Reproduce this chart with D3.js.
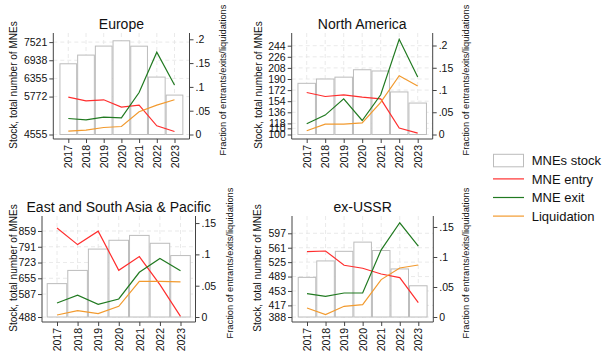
<!DOCTYPE html>
<html>
<head>
<meta charset="utf-8">
<script src="https://cdn.jsdelivr.net/npm/d3@7"></script>
<style>
  html, body { margin: 0; padding: 0; background: #fff; }
  svg { display: block; font-family: "Liberation Sans", Arial, Helvetica, sans-serif; }
</style>
</head>
<body>
<svg id="chart" width="604" height="352"></svg>
<script>
// Years shown on every panel
const years = [2017, 2018, 2019, 2020, 2021, 2022, 2023];

// Europe
const europeStock = [6825, 7104, 7393, 7563, 7390, 6398, 5820];
const europeEntry = [0.0786, 0.0708, 0.0729, 0.0576, 0.0618, 0.0183, 0.0063];
const europeExit = [0.0336, 0.0309, 0.0366, 0.0351, 0.0882, 0.173, 0.1038];
const europeLiquidation = [0.0071, 0.0092, 0.0147, 0.0168, 0.0477, 0.0618, 0.0729];
const europeStockTicks = [4555, 5772, 6355, 6938, 7521];

// North America
const naStock = [183, 190, 193, 205, 203, 169, 151];
const naEntry = [0.0944, 0.0854, 0.0892, 0.084, 0.080, 0.0144, 0.003];
const naExit = [0.024, 0.0436, 0.080, 0.0315, 0.0892, 0.214, 0.129];
const naLiquidation = [0.0083, 0.0234, 0.0234, 0.0263, 0.072, 0.132, 0.109];
const naStockTicks = [100, 110, 118, 136, 154, 172, 190, 208, 226, 244];

// East and South Asia & Pacific
const asiaStock = [632, 689, 781, 819, 840, 806, 753];
const asiaEntry = [0.142, 0.1156, 0.137, 0.0746, 0.0965, 0.0518, 0.001];
const asiaExit = [0.0224, 0.0347, 0.0203, 0.0288, 0.0714, 0.0933, 0.074];
const asiaLiquidation = [0.0032, 0.0102, 0.0054, 0.0171, 0.057, 0.057, 0.056];
const asiaStockTicks = [488, 587, 655, 723, 791, 859];

// ex-USSR
const ussrStock = [487, 528, 552, 575, 554, 508, 466];
const ussrEntry = [0.109, 0.110, 0.0862, 0.0812, 0.0717, 0.0656, 0.024];
const ussrExit = [0.039, 0.0345, 0.040, 0.040, 0.112, 0.157, 0.118];
const ussrLiquidation = [0.015, 0.004, 0.0178, 0.0206, 0.0623, 0.0817, 0.0867];
const ussrStockTicks = [388, 417, 453, 489, 525, 561, 597];

const fracTicksTop = [0, 0.05, 0.1, 0.15, 0.2];
const fracTicksBottom = [0, 0.05, 0.1, 0.15];

const legendLabels = ["MNEs stock", "MNE entry", "MNE exit", "Liquidation"];

const colors = { entry: "#ff2e2e", exit: "#217a21", liq: "#f29a2e", bar: "#bcbcbc", axis: "#444", grid: "#e4e4e4" };

const panels = [
  { title: "Europe", stock: europeStock, entry: europeEntry, exit: europeExit, liq: europeLiquidation,
    stockTicks: europeStockTicks, stockMax: 7813, fracTicks: fracTicksTop, fracMax: 0.2132,
    L: 53.3, R: 189.5, top: 33, bottom: 139, base: 134.5, titleY: 28.5,
    leftTitleX: 16.5, leftTitleY: 85, rightTitleX: 225.5, rightTitleY: 80 },
  { title: "North America", stock: naStock, entry: naEntry, exit: naExit, liq: naLiquidation,
    stockTicks: naStockTicks, stockMax: 264.6, fracTicks: fracTicksTop, fracMax: 0.2281,
    L: 291.7, R: 432.7, top: 33, bottom: 139, base: 134.5, titleY: 28.5,
    leftTitleX: 261.5, leftTitleY: 85, rightTitleX: 468.8, rightTitleY: 80 },
  { title: "East and South Asia & Pacific", stock: asiaStock, entry: asiaEntry, exit: asiaExit, liq: asiaLiquidation,
    stockTicks: asiaStockTicks, stockMax: 923.7, fracTicks: fracTicksBottom, fracMax: 0.1613,
    L: 42, R: 195.5, top: 216, bottom: 322, base: 317, titleY: 211.5,
    leftTitleX: 16.5, leftTitleY: 268, rightTitleX: 232.5, rightTitleY: 263 },
  { title: "ex-USSR", stock: ussrStock, entry: ussrEntry, exit: ussrExit, liq: ussrLiquidation,
    stockTicks: ussrStockTicks, stockMax: 640.2, fracTicks: fracTicksBottom, fracMax: 0.1683,
    L: 292, R: 433.3, top: 216, bottom: 322, base: 317, titleY: 211.5,
    leftTitleX: 261, leftTitleY: 268, rightTitleX: 469, rightTitleY: 263 }
];

const svg = d3.select("#chart");
const fracFormat = v => v === 0 ? "0" : String(v).replace(/^0/, "");

panels.forEach(p => {
  const g = svg.append("g");
  const x = d3.scaleLinear().domain([years[0], years[years.length - 1]]).range([p.L + 15, p.R - 15]);
  const step = x(years[1]) - x(years[0]);
  const yStock = d3.scaleLinear().domain([p.stockTicks[0], p.stockMax]).range([p.base, p.top]);
  const yFrac = d3.scaleLinear().domain([0, p.fracMax]).range([p.base, p.top]);

  // grid
  g.append("g").selectAll("line.h").data(p.stockTicks).join("line")
    .attr("x1", p.L).attr("x2", p.R)
    .attr("y1", d => yStock(d)).attr("y2", d => yStock(d))
    .attr("stroke", colors.grid).attr("stroke-width", 0.8).attr("stroke-dasharray", "4,3");
  g.append("g").selectAll("line.v").data(years).join("line")
    .attr("x1", d => x(d)).attr("x2", d => x(d))
    .attr("y1", p.top).attr("y2", p.bottom)
    .attr("stroke", colors.grid).attr("stroke-width", 0.8).attr("stroke-dasharray", "4,3");

  // stock bars
  g.append("g").selectAll("rect").data(years).join("rect")
    .attr("x", d => x(d) - step / 2 + 0.5)
    .attr("width", step - 1)
    .attr("y", (d, i) => yStock(p.stock[i]))
    .attr("height", (d, i) => yStock(p.stockTicks[0]) - yStock(p.stock[i]))
    .attr("fill", "#fff").attr("stroke", colors.bar).attr("stroke-width", 1);

  // rate lines
  const series = [[p.entry, colors.entry], [p.exit, colors.exit], [p.liq, colors.liq]];
  series.forEach(([vals, col]) => {
    const line = d3.line().x((d, i) => x(years[i])).y(d => yFrac(d));
    g.append("path").datum(vals).attr("d", line)
      .attr("fill", "none").attr("stroke", col).attr("stroke-width", 1.2);
  });

  // axes
  const axL = g.append("g").attr("transform", `translate(${p.L},0)`)
    .call(d3.axisLeft(yStock).tickValues(p.stockTicks).tickSize(4).tickPadding(2).tickFormat(d3.format("d")));
  const axR = g.append("g").attr("transform", `translate(${p.R},0)`)
    .call(d3.axisRight(yFrac).tickValues(p.fracTicks).tickSize(4).tickPadding(2).tickFormat(fracFormat));
  const axB = g.append("g").attr("transform", `translate(0,${p.bottom})`)
    .call(d3.axisBottom(x).tickValues(years).tickSize(4).tickPadding(2).tickFormat(d3.format("d")));
  [axL, axR, axB].forEach(a => {
    a.select(".domain").attr("stroke", colors.axis);
    a.selectAll(".tick line").attr("stroke", colors.axis);
    a.selectAll("text").attr("fill", "#111").style("font-size", "10.5px")
      .style("font-family", '"Liberation Sans", Arial, sans-serif');
  });
  axL.select(".domain").attr("d", `M0,${p.top}V${p.bottom}`);
  axR.select(".domain").attr("d", `M0,${p.top}V${p.bottom}`);
  axB.select(".domain").attr("d", `M${p.L},0H${p.R}`);
  axB.selectAll("text")
    .attr("transform", "rotate(-90)")
    .attr("text-anchor", "end")
    .attr("x", -6).attr("y", 0).attr("dy", "0.35em");

  // titles
  g.append("text").attr("x", (p.L + p.R) / 2).attr("y", p.titleY)
    .attr("text-anchor", "middle").style("font-size", "14px").attr("fill", "#111").text(p.title);
  g.append("text").attr("transform", `translate(${p.leftTitleX},${p.leftTitleY}) rotate(-90)`)
    .attr("text-anchor", "middle").style("font-size", "10px").attr("fill", "#111")
    .text("Stock, total number of MNEs");
  g.append("text").attr("transform", `translate(${p.rightTitleX},${p.rightTitleY}) rotate(-90)`)
    .attr("text-anchor", "middle").style("font-size", "9.3px").attr("fill", "#111")
    .text("Fraction of entrants/exits/liquidations");
});

// legend
const lg = svg.append("g").attr("transform", "translate(493,160.3)");
const legendColors = [null, colors.entry, colors.exit, colors.liq];
legendLabels.forEach((lab, i) => {
  const row = lg.append("g").attr("transform", `translate(0,${i * 18.6})`);
  if (i === 0) {
    row.append("rect").attr("x", 0.5).attr("y", -6).attr("width", 30).attr("height", 12.5)
      .attr("fill", "#fff").attr("stroke", colors.bar);
  } else {
    row.append("line").attr("x1", 0).attr("x2", 31).attr("y1", 0).attr("y2", 0)
      .attr("stroke", legendColors[i]).attr("stroke-width", 1.2);
  }
  row.append("text").attr("x", 38.7).attr("y", 0).attr("dy", "0.36em")
    .style("font-size", "13px").attr("fill", "#111").text(lab);
});
</script>
</body>
</html>
